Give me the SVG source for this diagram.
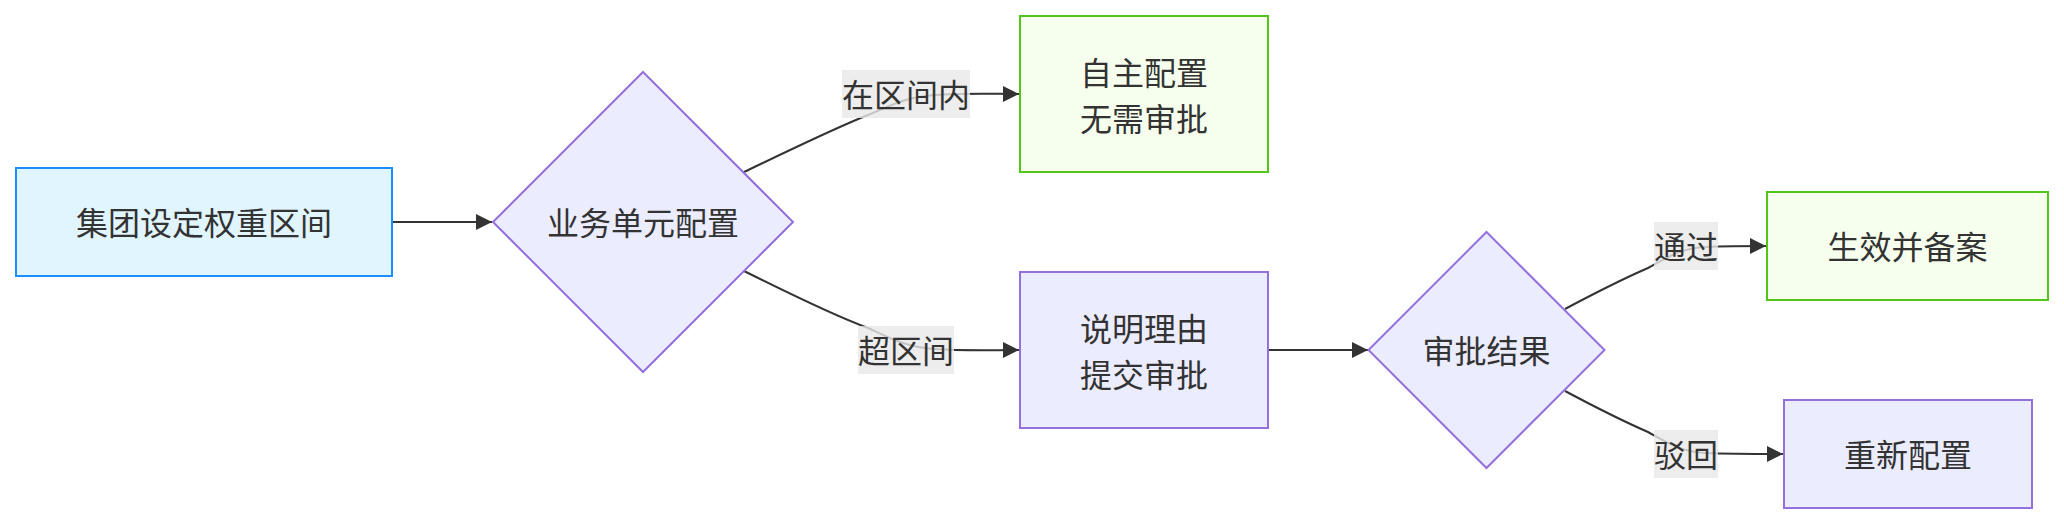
<svg xmlns="http://www.w3.org/2000/svg" width="2064" height="524" viewBox="0 0 2064 524">
<style>
text{font-family:"Noto Sans CJK SC","Noto Sans",sans-serif;font-size:32px;fill:#333;text-anchor:middle;dominant-baseline:central}
.blue{fill:#e1f5fe;stroke:#1890ff;stroke-width:2}
.green{fill:#f6ffed;stroke:#52c41a;stroke-width:2}
.purple{fill:#ececff;stroke:#9370db;stroke-width:2}
.edge{fill:none;stroke:#333;stroke-width:2;marker-end:url(#arrow)}
.lbl{fill:rgba(232,232,232,0.8)}
</style>
<defs>
<marker id="arrow" viewBox="0 0 10 10" refX="10" refY="5" markerWidth="16" markerHeight="16" markerUnits="userSpaceOnUse" orient="auto">
<path d="M0,0 L10,5 L0,10 z" fill="#333"/>
</marker>
</defs>
<rect width="2064" height="524" fill="#fff"/>
<g id="connectors">
<path class="edge" d="M392,222 L492,222"/>
<path class="edge" d="M744,172 C790,150 835,128 868,115 C890,106 905,97 935,95 C965,93 990,94 1019,94"/>
<path class="edge" d="M744,271 C790,294 835,316 868,328 C890,338 905,347 935,349 C965,351 990,350 1019,350"/>
<path class="edge" d="M1268,350 L1368,350"/>
<path class="edge" d="M1565,309 C1595,293 1625,278 1648,268 C1665,259 1680,248 1705,247 C1730,246 1750,246 1766,246"/>
<path class="edge" d="M1565,391 C1595,407 1625,422 1648,432 C1665,441 1680,452 1705,453 C1730,454 1760,454 1783,454"/>
</g>
<g id="edge-labels">
<g id="label-in"><rect class="lbl" x="842" y="70" width="128" height="48"/><text x="906" y="93">在区间内</text></g>
<g id="label-out"><rect class="lbl" x="858" y="326" width="96" height="48"/><text x="906" y="349">超区间</text></g>
<g id="label-pass"><rect class="lbl" x="1654" y="222" width="64" height="48"/><text x="1686" y="245">通过</text></g>
<g id="label-reject"><rect class="lbl" x="1654" y="430" width="64" height="48"/><text x="1686" y="453">驳回</text></g>
</g>
<g id="node-A"><rect class="blue" x="16" y="168" width="376" height="108"/><text x="204" y="221">集团设定权重区间</text></g>
<g id="node-B"><polygon class="purple" points="643,72 793,222 643,372 493,222"/><text x="643" y="221">业务单元配置</text></g>
<g id="node-C"><rect class="green" x="1020" y="16" width="248" height="156"/><text x="1144" y="71">自主配置</text><text x="1144" y="117">无需审批</text></g>
<g id="node-D"><rect class="purple" x="1020" y="272" width="248" height="156"/><text x="1144" y="327">说明理由</text><text x="1144" y="373">提交审批</text></g>
<g id="node-E"><polygon class="purple" points="1486.5,232 1604.5,350 1486.5,468 1368.5,350"/><text x="1486.5" y="349">审批结果</text></g>
<g id="node-F"><rect class="green" x="1767" y="192" width="281" height="108"/><text x="1907.5" y="245">生效并备案</text></g>
<g id="node-G"><rect class="purple" x="1784" y="400" width="248" height="108"/><text x="1908" y="453">重新配置</text></g>
</svg>
